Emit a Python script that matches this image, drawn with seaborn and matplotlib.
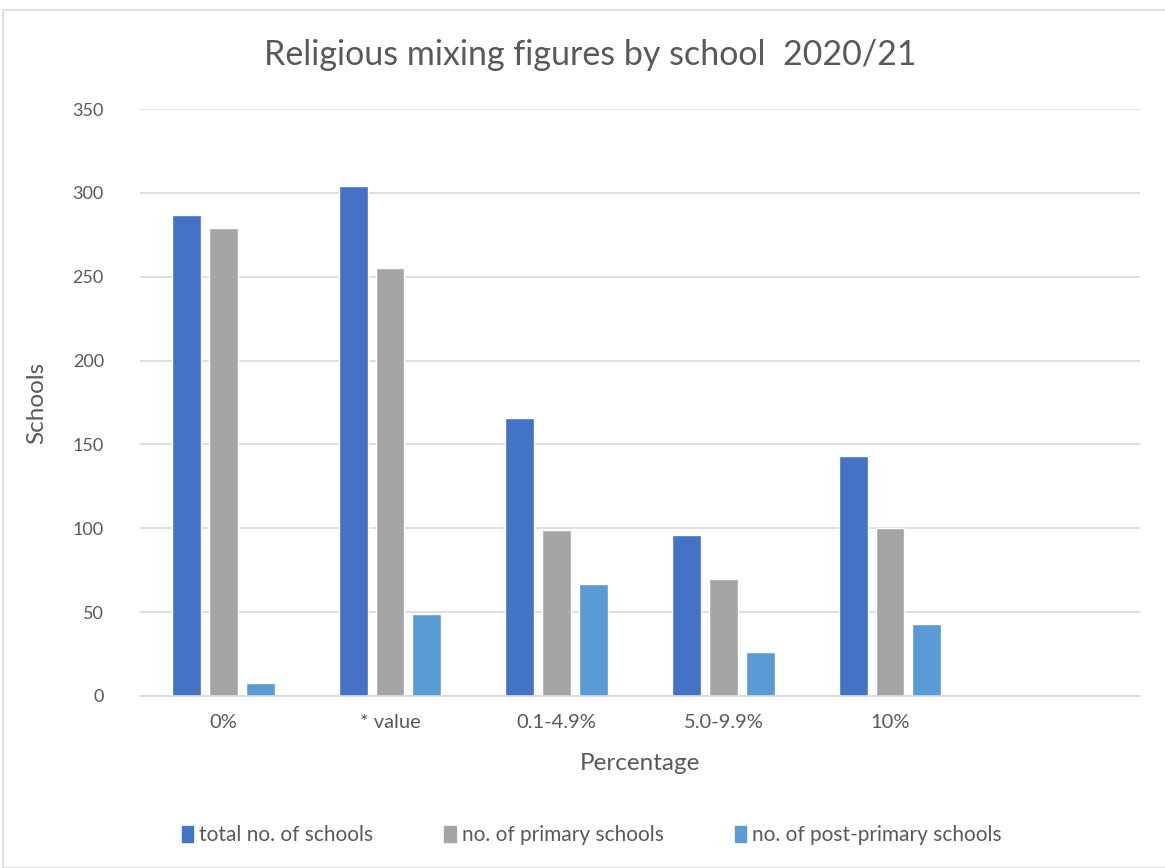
import matplotlib

matplotlib.use("Agg")

import matplotlib.pyplot as plt
import numpy as np
import pandas as pd
import seaborn as sns
from matplotlib.patches import Rectangle

CATEGORIES = ["0%", "* value", "0.1-4.9%", "5.0-9.9%", "10%", ""]
TOTAL_SCHOOLS = [287, 304, 166, 96, 143, np.nan]
PRIMARY_SCHOOLS = [279, 255, 99, 70, 100, np.nan]
POST_PRIMARY_SCHOOLS = [8, 49, 67, 26, 43, np.nan]
SERIES = ["total no. of schools", "no. of primary schools", "no. of post-primary schools"]
COLORS = ["#4472C4", "#A5A5A5", "#5B9BD5"]
TEXT = "#595959"


def build_frame() -> pd.DataFrame:
    frames = []
    for name, values in zip(SERIES, [TOTAL_SCHOOLS, PRIMARY_SCHOOLS, POST_PRIMARY_SCHOOLS]):
        frames.append(pd.DataFrame({"category": CATEGORIES, "series": name, "value": values}))
    return pd.concat(frames, ignore_index=True)


def main() -> None:
    sns.set_theme(style="white")
    plt.rcParams["font.family"] = ["Lato", "DejaVu Sans"]

    df = build_frame()
    fig = plt.figure(figsize=(11.65, 8.68), dpi=100)
    ax = fig.add_axes([140 / 1165, 1 - 696 / 868, 1000 / 1165, 587 / 868])

    sns.barplot(
        data=df,
        x="category",
        y="value",
        hue="series",
        order=CATEGORIES,
        hue_order=SERIES,
        palette=COLORS,
        width=0.665,
        gap=0.216,
        saturation=1,
        ax=ax,
        legend=False,
    )

    ax.set_ylim(0, 350)
    ax.set_xlim(-0.5, len(CATEGORIES) - 0.5)
    ax.set_yticks(range(0, 351, 50))
    ax.yaxis.grid(True, color="#D9D9D9", linewidth=1.2)
    ax.set_axisbelow(True)
    for side in ["top", "right", "left"]:
        ax.spines[side].set_visible(False)
    ax.spines["bottom"].set_color("#D9D9D9")
    ax.spines["bottom"].set_linewidth(1.2)
    ax.tick_params(axis="y", length=0, labelsize=13, labelcolor=TEXT, pad=26)
    ax.tick_params(axis="x", length=0, labelsize=14.5, labelcolor=TEXT, pad=13)

    ax.set_xlabel("Percentage", fontsize=17.5, color=TEXT, labelpad=16)
    ax.set_ylabel("Schools", fontsize=17.5, color=TEXT, labelpad=18)
    fig.text(0.507, 1 - 55 / 868, "Religious mixing figures by school  2020/21",
             ha="center", va="center", fontsize=24.5, color=TEXT)

    handles = [Rectangle((0, 0), 1, 1, color=c) for c in COLORS]
    fig.legend(handles, SERIES, loc="center", bbox_to_anchor=(0.508, 1 - 835 / 868),
               ncol=3, frameon=False, fontsize=15, labelcolor=TEXT,
               handlelength=0.55, handleheight=0.8, handletextpad=0.3, columnspacing=3.4)

    fig.patches.append(Rectangle((3 / 1165, 0), 1.2, 1 - 10 / 868, transform=fig.transFigure,
                                 fill=False, edgecolor="#D9D9D9", linewidth=1.2))

    fig.savefig("out.png", dpi=100)
    plt.close(fig)


if __name__ == "__main__":
    main()
